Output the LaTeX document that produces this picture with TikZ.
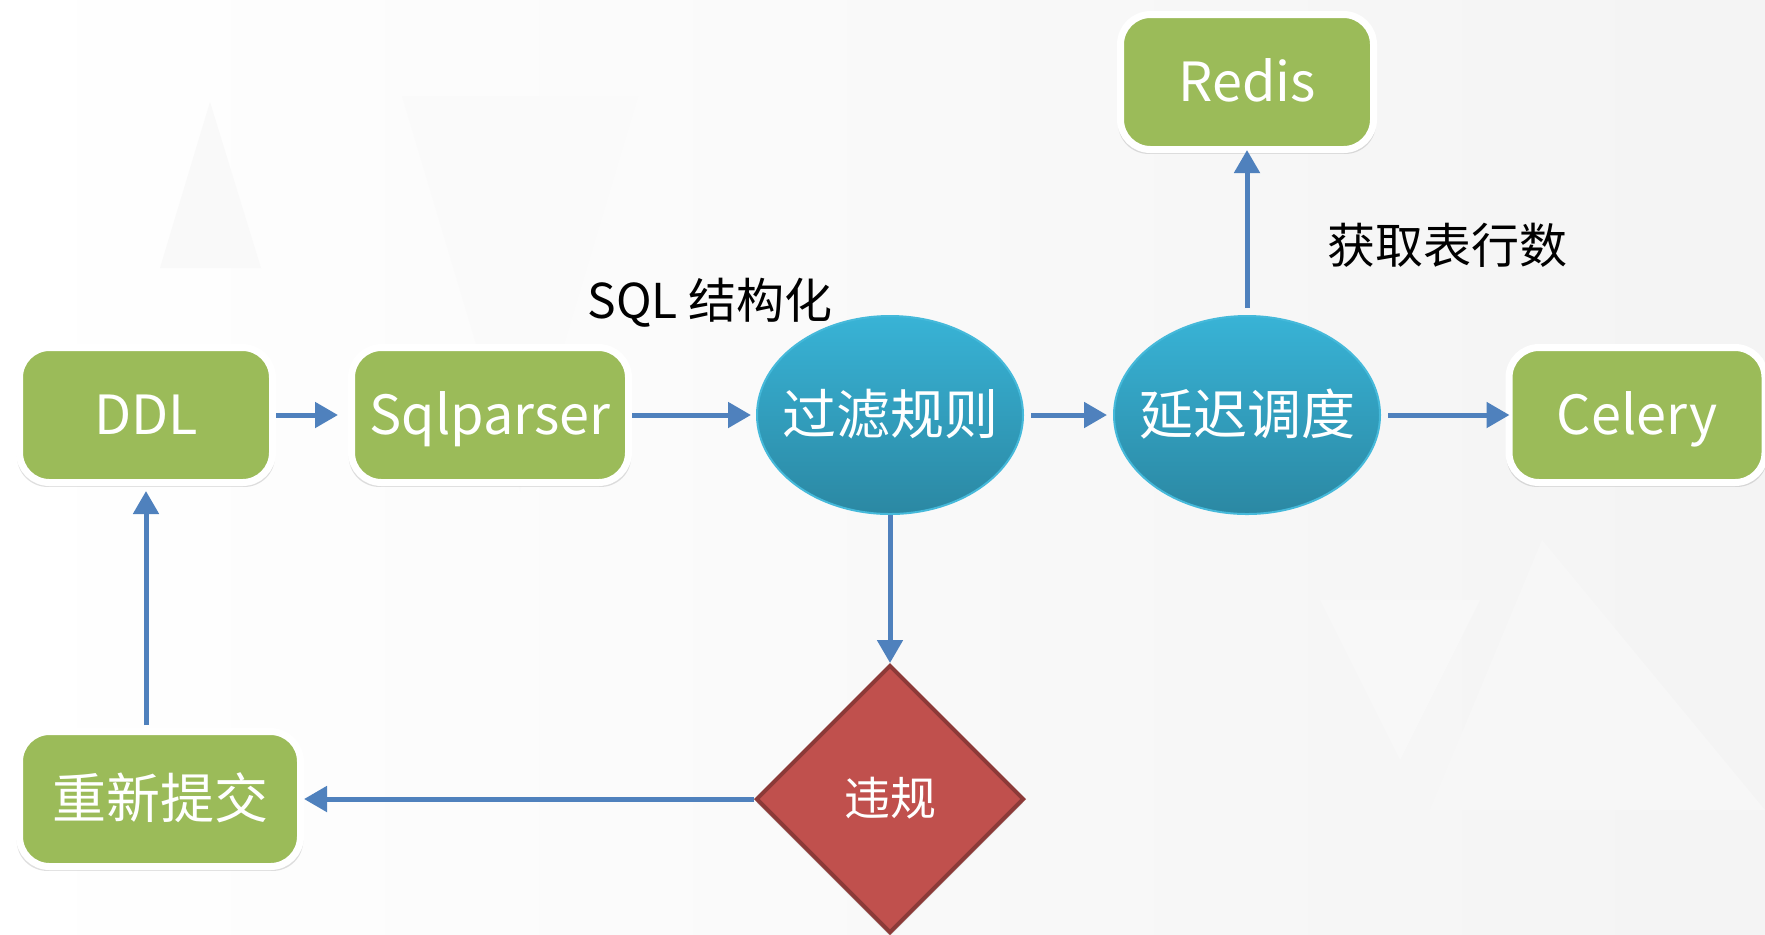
\documentclass[tikz,border=0pt]{standalone}
\usepackage{fontspec}
\setmainfont{Noto Sans CJK SC}
\usetikzlibrary{shapes.geometric,arrows.meta,shadows}
\definecolor{boxgreen}{HTML}{9BBB59}
\definecolor{flowblue}{HTML}{4F81BD}
\definecolor{balltop}{HTML}{38B3D6}
\definecolor{ballbot}{HTML}{2B88A3}
\definecolor{balledge}{HTML}{45B9DA}
\definecolor{warnred}{HTML}{C0504D}
\definecolor{warnedge}{HTML}{8C3A38}

\begin{document}
\begin{tikzpicture}[x=.5pt,y=-.5pt,
	flow/.style={-{Triangle[length=11.5pt,width=12.5pt]},line width=2.5pt,draw=flowblue},
	box/.style={rounded corners=15pt,fill=boxgreen,draw=white,line width=3.5pt,
		minimum height=67.5pt,text=white,font=\fontsize{27}{30}\selectfont,
		text height=19.7pt,text depth=0pt,
		drop shadow={opacity=.25,shadow xshift=0pt,shadow yshift=-1.5pt,shadow scale=1.02}},
	ball/.style={ellipse,top color=balltop,bottom color=ballbot,draw=balledge,line width=1pt,
		minimum width=133pt,minimum height=99pt,inner xsep=-7pt,inner ysep=0pt,text=white,
		font=\fontsize{27}{30}\selectfont,text height=19.7pt,text depth=0pt},
	warn/.style={diamond,aspect=1,fill=warnred,draw=warnedge,line width=2pt,
		minimum width=134pt,minimum height=134pt,inner sep=0pt,text=white,
		font=\fontsize{23}{26}\selectfont,text height=16.8pt,text depth=0pt,
		drop shadow={opacity=.18,shadow xshift=0pt,shadow yshift=-2pt}},
	lbl/.style={font=\fontsize{24}{28}\selectfont,text=black}]

	\useasboundingbox (0,0) rectangle (1765,934);
	\fill[left color=white,right color=gray!9] (0,0) rectangle (1765,934);
	\fill[gray!5] (210,102) -- (160,268) -- (261,268) -- cycle;
	\fill[gray!4] (402,96) -- (638,96) -- (520,491) -- cycle;
	\fill[gray!5,opacity=.6] (1542,540) -- (1430,810) -- (1765,810) -- cycle;
	\fill[gray!4,opacity=.6] (1320,600) -- (1480,600) -- (1400,760) -- cycle;

	\node[box,minimum width=126.5pt] (ddl) at (146,415) {DDL};
	\node[box,minimum width=138.5pt] (sqlp) at (490,415) {Sqlparser};
	\node[ball] (filt) at (890,415) {过滤规则};
	\node[ball] (delay) at (1247,415) {延迟调度};
	\node[box,minimum width=128pt] (celery) at (1637,415) {Celery};
	\node[box,minimum width=126.5pt] (redis) at (1247,82) {Redis};
	\node[warn] (viol) at (890,799) {违规};
	\node[box,minimum width=140.5pt] (redo) at (160,799) {重新提交};

	\node[lbl] (sqltxt) at (710,303) {SQL 结构化};
	\node[lbl] (rowtxt) at (1447,245) {获取表行数};

	\draw[flow,shorten >=5pt] (ddl) -- (sqlp);
	\draw[flow,shorten >=2.5pt] (sqlp) -- (filt);
	\draw[flow,shorten <=3.5pt,shorten >=3pt] (filt) -- (delay);
	\draw[flow,shorten <=3.5pt,shorten >=-2pt] (delay) -- (celery);
	\draw[flow,shorten <=3.5pt,shorten >=-1.5pt] (delay) -- (redis);
	\draw[flow] (filt) -- (viol);
	\draw[flow] (viol) -- (redo);
	\draw[flow,shorten <=1.5pt,shorten >=2.5pt] (ddl |- redo.north) -- (ddl.south);
\end{tikzpicture}
\end{document}
